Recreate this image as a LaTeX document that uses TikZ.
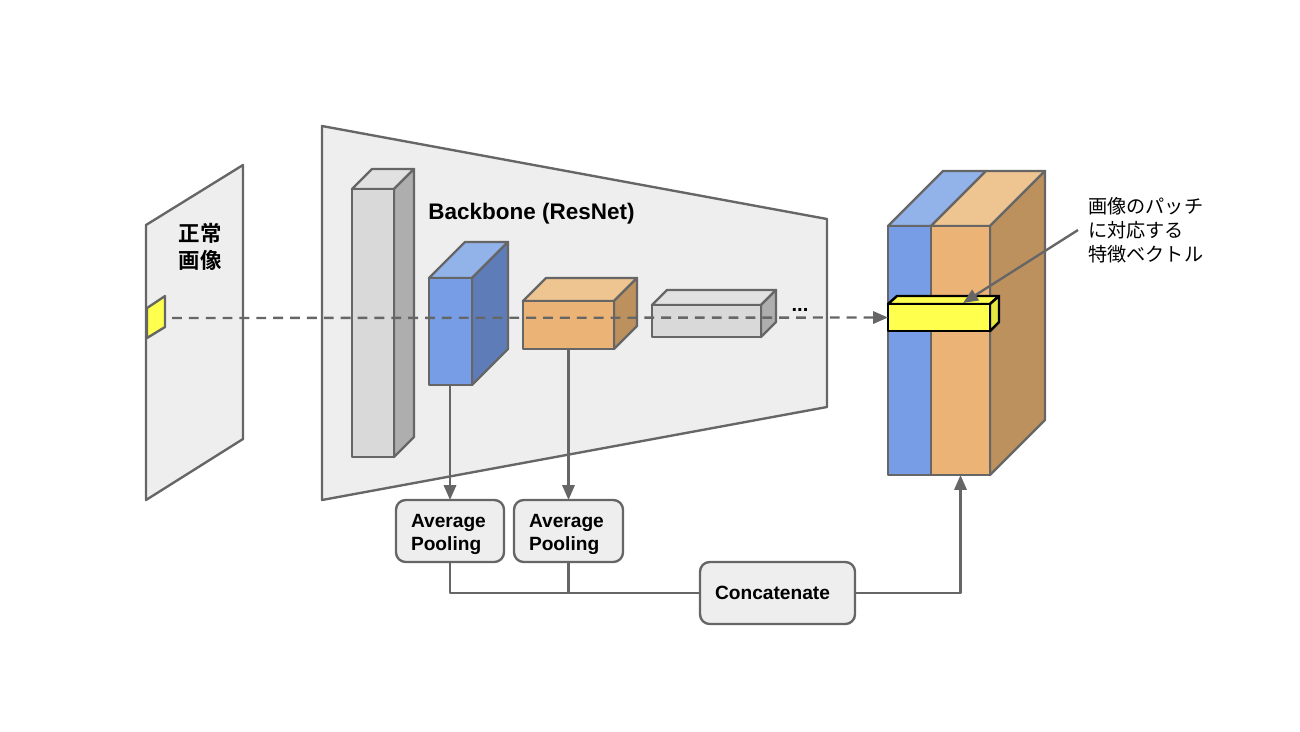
\documentclass[tikz,border=0pt]{standalone}
\usepackage{fontspec}
\setmainfont{Liberation Sans}
\newfontfamily\cjk[BoldFont={Noto Sans CJK JP Bold}]{Noto Sans CJK JP}
\usetikzlibrary{arrows.meta}
\definecolor{linegray}{HTML}{666666}
\definecolor{panelgray}{HTML}{EEEEEE}
\definecolor{bluefront}{HTML}{769DE5}
\definecolor{bluetop}{HTML}{92B2EA}
\definecolor{blueside}{HTML}{5E7DB8}
\definecolor{orangefront}{HTML}{EBB375}
\definecolor{orangetop}{HTML}{EEC491}
\definecolor{orangeside}{HTML}{BC915E}
\definecolor{grayfront}{HTML}{D9D9D9}
\definecolor{graytop}{HTML}{E1E1E1}
\definecolor{grayside}{HTML}{AEAEAE}
\definecolor{vecfront}{HTML}{FFFF4D}
\definecolor{vecside}{HTML}{E6E640}
\tikzset{
	edge/.style={draw=linegray,line width=1.35pt,line join=round},
	vecedge/.style={draw=black,line width=1.4pt,line join=round},
	facebox/.style={edge,rectangle,inner sep=0pt,outer sep=0pt},
	poolbox/.style={edge,fill=panelgray,rounded corners=5.5pt,inner sep=0pt,outer sep=0pt,align=left,font=\bfseries\fontsize{10.9}{13}\selectfont},
}
% name, left, top, right, bottom, depth, colour
\newcommand{\cuboid}[7]{
	\draw[edge,fill=#7top] (#2,#3)--({#2+#6},{#3-#6})--({#4+#6},{#3-#6})--(#4,#3)--cycle;
	\draw[edge,fill=#7side] (#4,#3)--({#4+#6},{#3-#6})--({#4+#6},{#5-#6})--(#4,#5)--cycle;
	\node[facebox,fill=#7front,minimum width={(#4-#2)*.02cm},minimum height={(#5-#3)*.02cm}] (#1) at ({(#2+#4)/2},{(#3+#5)/2}) {};
}
\begin{document}
\begin{tikzpicture}[x=.02cm,y=-.02cm,>={Triangle[length=8.5pt,width=7pt]}]
	\useasboundingbox (0,0) rectangle (1300,731);
	% input image
	\draw[edge,fill=panelgray] (146,225)--(243,165)--(243,439)--(146,500)--cycle;
	\draw[edge,fill=vecfront] (147,308)--(165,296)--(165,327)--(147,338)--cycle;
	\coordinate (patchEnd) at (165,318);
	\node[font=\cjk\bfseries\fontsize{12.2}{15.3}\selectfont,align=left] (imageLabel) at (200,246.5) {正常\\画像};
	% backbone
	\draw[edge,fill=panelgray] (322,126)--(827,219)--(827,407)--(322,500)--cycle;
	\node[font=\bfseries\fontsize{12.8}{15}\selectfont,anchor=west,inner sep=0pt] (backboneLabel) at (428,213.5) {Backbone (ResNet)};
	\cuboid{layerA}{352}{189}{394}{457}{20}{gray}
	\cuboid{layerB}{429}{278}{472}{385}{36}{blue}
	\cuboid{layerC}{523}{301}{614}{349}{23}{orange}
	\cuboid{layerD}{652}{305}{761}{337}{15}{gray}
	\node[font=\bfseries\fontsize{11.5}{13}\selectfont,inner sep=0pt] (moreDots) at (800,310) {...};
	% feature block
	\draw[edge,fill=bluetop] (888,226)--(943,171)--(986,171)--(931,226)--cycle;
	\draw[edge,fill=orangetop] (931,226)--(986,171)--(1045,171)--(990,226)--cycle;
	\draw[edge,fill=orangeside] (990,226)--(1045,171)--(1045,420)--(990,475)--cycle;
	\node[facebox,fill=bluefront,minimum width={43*.02cm},minimum height={249*.02cm}] (featBlue) at (909.5,350.5) {};
	\node[facebox,fill=orangefront,minimum width={59*.02cm},minimum height={249*.02cm}] (featOrange) at (960.5,350.5) {};
	% patch vector
	\draw[vecedge,fill=vecfront] (888,304)--(897,296)--(999,296)--(990,304)--cycle;
	\draw[vecedge,fill=vecside] (990,304)--(999,296)--(999,322)--(990,331)--cycle;
	\node[vecedge,fill=vecfront,rectangle,inner sep=0pt,outer sep=0pt,minimum width={102*.02cm},minimum height={27*.02cm}] (featVec) at (939,317.5) {};
	\coordinate (vecTip) at (963,303);
	% pooling
	\node[poolbox,text width=1.56cm,minimum width={108*.02cm},minimum height={62*.02cm}] (poolA) at (450,531) {\rule{0pt}{11.5pt}Average\\Pooling};
	\node[poolbox,text width=1.58cm,minimum width={109*.02cm},minimum height={62*.02cm}] (poolB) at (568.5,531) {\rule{0pt}{11.5pt}Average\\Pooling};
	\node[poolbox,text width=2.5cm,minimum width={155*.02cm},minimum height={62*.02cm}] (concat) at (777.5,593) {Concatenate};
	\node[anchor=west,inner xsep=.2cm,inner ysep=0pt,align=left,font=\cjk\fontsize{10.9}{13.6}\selectfont] (vecLabel) at (1078,230) {画像のパッチ\\に対応する\\特徴ベクトル};
	% connectors
	\draw[edge,dash pattern=on 5.6pt off 4pt,dash phase=5.6pt,->] (patchEnd)--(featVec.west);
	\draw[edge,->] (layerB.south -| poolA.north)--(poolA.north);
	\draw[edge,->] (layerC.south)--(poolB.north);
	\draw[edge] (poolA.south)|-(concat.west);
	\draw[edge] (poolB.south)|-(concat.west);
	\draw[edge,->] (concat.east)-|(featOrange.south);
	\draw[edge,->] (vecLabel.west)--(vecTip);
\end{tikzpicture}
\end{document}
